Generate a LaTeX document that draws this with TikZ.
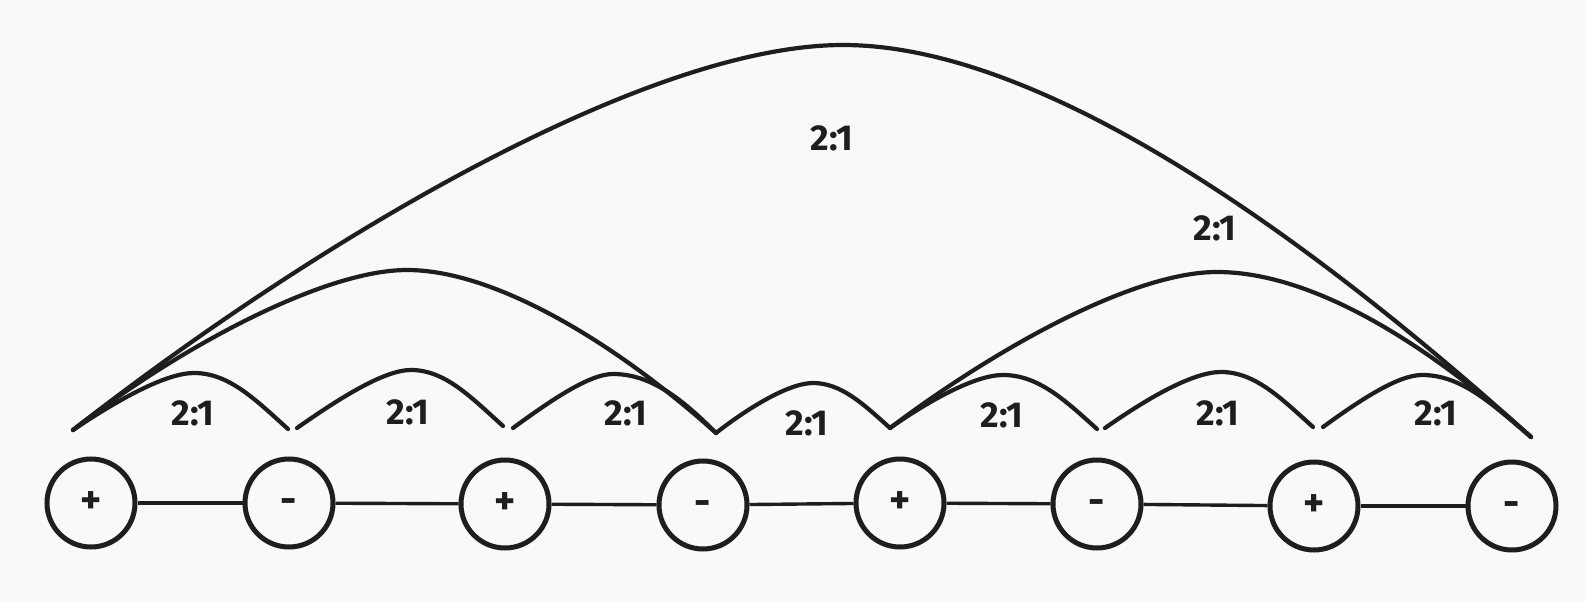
\documentclass[tikz,border=0pt]{standalone}
\usepackage{fontspec}
\setmainfont{Fira Sans}
\definecolor{bg}{RGB}{248,249,251}
\definecolor{ink}{RGB}{30,30,30}
\begin{document}
\begin{tikzpicture}[x=0.5pt,y=0.5pt,
  ion/.style={circle,draw=ink,line width=2.5pt,minimum size=44pt,inner sep=0pt,
    font=\fontsize{20}{20}\selectfont\bfseries,text=ink},
  bond/.style={draw=ink,line width=1.7pt},
  jump/.style={draw=ink,line width=2.1pt,line cap=round},
  ratio/.style={font=\fontsize{18}{18}\selectfont\bfseries,text=ink,inner sep=0pt}]
\fill[bg] (0,0) rectangle (1585,601);
\useasboundingbox (0,0) rectangle (1585,601);

% ions
\node[ion] (c1) at (91,98) {+};
\node[ion] (c2) at (289,98) {\vphantom{+}-};
\node[ion] (c3) at (505,97) {+};
\node[ion] (c4) at (703,96) {\vphantom{+}-};
\node[ion] (c5) at (900,98) {+};
\node[ion] (c6) at (1097,97) {\vphantom{+}-};
\node[ion] (c7) at (1314,95) {+};
\node[ion] (c8) at (1512,95) {\vphantom{+}-};
\draw[bond] (c1) -- (c2);
\draw[bond] (c2) -- (c3);
\draw[bond] (c3) -- (c4);
\draw[bond] (c4) -- (c5);
\draw[bond] (c5) -- (c6);
\draw[bond] (c6) -- (c7);
\draw[bond] (c7) -- (c8);

% arc end points
\coordinate (s0) at (73,171);
\coordinate (e1) at (288,172);
\coordinate (s2) at (297,173);
\coordinate (e2) at (503,175);
\coordinate (s3) at (513,173);
\coordinate (m4) at (716,168);
\coordinate (m5) at (890,173);
\coordinate (e5) at (1097,172);
\coordinate (s6) at (1105,173);
\coordinate (e6) at (1313,174);
\coordinate (s7) at (1323,174);
\coordinate (e8) at (1531,164);
% peaks
\coordinate (k1) at (194,228);
\coordinate (k2) at (411,231);
\coordinate (k3) at (613,227);
\coordinate (k4) at (813,218);
\coordinate (k5) at (1003,226);
\coordinate (k6) at (1221,229);
\coordinate (k7) at (1422,226);
\coordinate (km1) at (407,331);
\coordinate (km2) at (1217,329);
\coordinate (kl) at (843,556);

% small arcs
\draw[jump] (s0) .. controls +(34:55) and +(-28,0) .. (k1)
                 .. controls +(35,0) and +(138:44) .. (e1);
\draw[jump] (s2) .. controls +(35:52) and +(-27,0) .. (k2)
                 .. controls +(34,0) and +(138:43) .. (e2);
\draw[jump] (s3) .. controls +(36:46) and +(-24,0) .. (k3)
                 .. controls +(38,0) and +(135:48) .. (m4);
\draw[jump] (m4) .. controls +(38:44) and +(-23,0) .. (k4)
                 .. controls +(28,0) and +(138:36) .. (m5);
\draw[jump] (m5) .. controls +(35:51) and +(-27,0) .. (k5)
                 .. controls +(35,0) and +(138:44) .. (e5);
\draw[jump] (s6) .. controls +(35:53) and +(-28,0) .. (k6)
                 .. controls +(34,0) and +(138:43) .. (e6);
\draw[jump] (s7) .. controls +(36:46) and +(-24,0) .. (k7)
                 .. controls +(40,0) and +(140:51) .. (e8);
% medium arcs
\draw[jump] (s0) .. controls +(38:130) and +(-85,0) .. (km1)
                 .. controls +(90,0) and +(138:130) .. (m4);
\draw[jump] (m5) .. controls +(37:130) and +(-85,0) .. (km2)
                 .. controls +(100,0) and +(138:130) .. (e8);
% large arc
\draw[jump] (s0) .. controls +(38:300) and +(-200,0) .. (kl)
                 .. controls +(200,0) and +(138:300) .. (e8);

% labels
\node[ratio] (r1) at (193,188) {2:1};
\node[ratio] (r2) at (408,189) {2:1};
\node[ratio] (r3) at (626,188) {2:1};
\node[ratio] (r4) at (807,178) {2:1};
\node[ratio] (r5) at (1002,186) {2:1};
\node[ratio] (r6) at (1218,188) {2:1};
\node[ratio] (r7) at (1436,188) {2:1};
\node[ratio] (rm) at (1215,373) {2:1};
\node[ratio] (rl) at (832,463) {2:1};
\end{tikzpicture}
\end{document}
